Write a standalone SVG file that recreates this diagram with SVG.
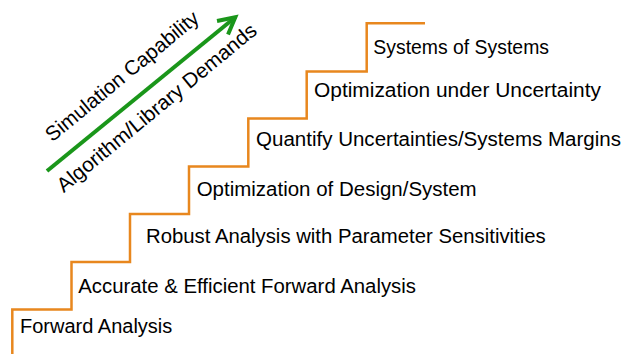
<svg xmlns="http://www.w3.org/2000/svg" width="624" height="354" viewBox="0 0 624 354">
  <defs>
    <style>
      .lbl { font-family: "Liberation Sans", Arial, sans-serif; font-size: 19.5px; fill: #000; }
      .rot { font-size: 20.5px; }
      .stair { fill: none; stroke: #E8871E; stroke-width: 2.5; stroke-linejoin: miter; }
      .arrow { fill: none; stroke: #1A961A; stroke-width: 4; stroke-linecap: butt; }
    </style>
    <marker id="chev" markerUnits="userSpaceOnUse" orient="auto" refX="0" refY="0" markerWidth="40" markerHeight="40" viewBox="-30 -20 40 40" overflow="visible">
      <path d="M-16.5,-8.7 L0,0 L-16.5,8.7" fill="none" stroke="#1A961A" stroke-width="4" stroke-linejoin="miter"/>
    </marker>
  </defs>
  <rect width="624" height="354" fill="#fff"/>

  <g id="connectors">
    <path id="stairs" class="stair" d="M12.3,356 V309.5 H71.5 V262 H130 V214 H189 V166.5 H248.3 V118.5 H306.7 V71.5 H366.7 V23.3 H425"/>
    <line id="trend-arrow" class="arrow" x1="47" y1="171" x2="235.3" y2="17.3" marker-end="url(#chev)"/>
  </g>

  <g id="axis-labels">
    <text class="lbl rot" transform="translate(126.4,81.5) rotate(-39.5)" x="0" y="0" text-anchor="middle" textLength="192" lengthAdjust="spacingAndGlyphs">Simulation Capability</text>
    <text class="lbl rot" transform="translate(161,113) rotate(-39.5)" x="0" y="0" text-anchor="middle" textLength="252" lengthAdjust="spacingAndGlyphs">Algorithm/Library Demands</text>
  </g>

  <g id="step1"><text class="lbl" x="20" y="333.3" textLength="152.3" lengthAdjust="spacingAndGlyphs">Forward Analysis</text></g>
  <g id="step2"><text class="lbl" x="78.3" y="293.3" textLength="337.7" lengthAdjust="spacingAndGlyphs">Accurate &amp; Efficient Forward Analysis</text></g>
  <g id="step3"><text class="lbl" x="146" y="243.3" textLength="399.7" lengthAdjust="spacingAndGlyphs">Robust Analysis with Parameter Sensitivities</text></g>
  <g id="step4"><text class="lbl" x="196.7" y="196" textLength="280" lengthAdjust="spacingAndGlyphs">Optimization of Design/System</text></g>
  <g id="step5"><text class="lbl" x="256" y="146.3" textLength="365" lengthAdjust="spacingAndGlyphs">Quantify Uncertainties/Systems Margins</text></g>
  <g id="step6"><text class="lbl" x="314" y="97.3" textLength="287" lengthAdjust="spacingAndGlyphs">Optimization under Uncertainty</text></g>
  <g id="step7"><text class="lbl" x="373.3" y="54" textLength="175.7" lengthAdjust="spacingAndGlyphs">Systems of Systems</text></g>
</svg>
